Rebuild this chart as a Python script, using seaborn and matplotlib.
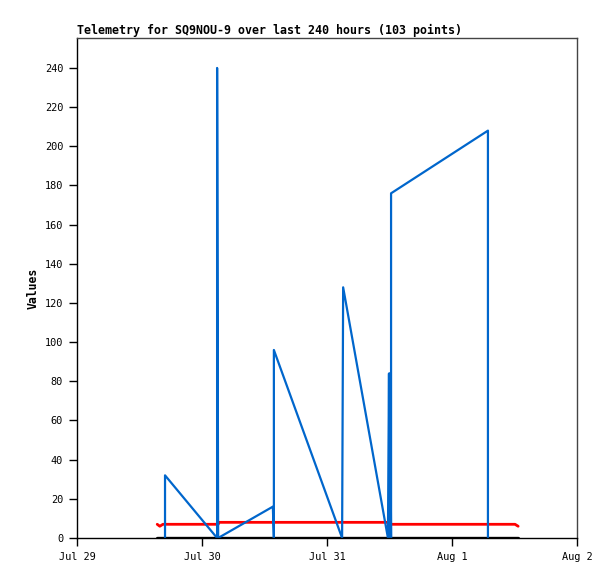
import matplotlib
matplotlib.use("Agg")
import matplotlib.pyplot as plt
import seaborn as sns

# * Values, x in hours since Jul 29 00:00
blue_hours = [16.9, 16.9, 26.9, 26.9, 27.1, 37.6, 37.8, 37.8, 50.9, 51.1,
              59.7, 59.9, 60.0, 60.1, 60.3, 60.3, 78.9, 78.9]
blue_values = [0, 32, 0, 240, 0, 16, 0, 96, 0, 128,
               0, 84, 0, 84, 0, 176, 208, 0]

red_hours = [15.4, 15.9, 16.5, 27.1, 27.3, 59.7, 59.9, 84.1, 84.7]
red_values = [7, 6, 7, 7, 8, 8, 7, 7, 6]

black_hours = [15.4, 84.7]
black_values = [0, 0]

tick_hours = [0, 24, 48, 72, 96]
tick_labels = ["Jul 29", "Jul 30", "Jul 31", "Aug 1", "Aug 2"]
y_ticks = list(range(0, 241, 20))

title = "Telemetry for SQ9NOU-9 over last 240 hours (103 points)"

sns.set_style("white")
plt.rcParams["font.family"] = ["DejaVu Sans Mono"]
plt.rcParams["text.color"] = "black"
plt.rcParams["axes.labelcolor"] = "black"
plt.rcParams["xtick.color"] = "black"
plt.rcParams["ytick.color"] = "black"

fig = plt.figure(figsize=(6.15, 5.79), dpi=100)
ax = fig.add_axes([77 / 615, 1 - 538 / 579, 500 / 615, 500 / 579])

# * sort=False keeps the vertical jumps in order
sns.lineplot(x=black_hours, y=black_values, ax=ax, color="black",
             linewidth=2.4, sort=False, estimator=None)
sns.lineplot(x=red_hours, y=red_values, ax=ax, color="#ff0000",
             linewidth=2.0, sort=False, estimator=None)
sns.lineplot(x=blue_hours, y=blue_values, ax=ax, color="#0066cc",
             linewidth=1.6, sort=False, estimator=None)

ax.set_xlim(0, 96)
ax.set_ylim(0, 255.3)
ax.set_xticks(tick_hours)
ax.set_xticklabels(tick_labels)
ax.set_yticks(y_ticks)
ax.tick_params(axis="both", direction="out", length=6, width=1,
               color="black", labelcolor="black", labelsize=7.4,
               bottom=True, left=True)
ax.tick_params(axis="y", pad=4)
ax.tick_params(axis="x", pad=4)

for side in ["left", "bottom"]:
    ax.spines[side].set_color("black")
    ax.spines[side].set_linewidth(1)
for side in ["top", "right"]:
    ax.spines[side].set_color("#444444")
    ax.spines[side].set_linewidth(1)

ax.set_title(title, loc="left", fontsize=8.4, fontweight="bold", pad=3,
             color="black")
ax.set_ylabel("Values", fontsize=8.3, fontweight="bold", labelpad=4)
ax.set_xlabel("")

fig.savefig("out.png", dpi=100)
